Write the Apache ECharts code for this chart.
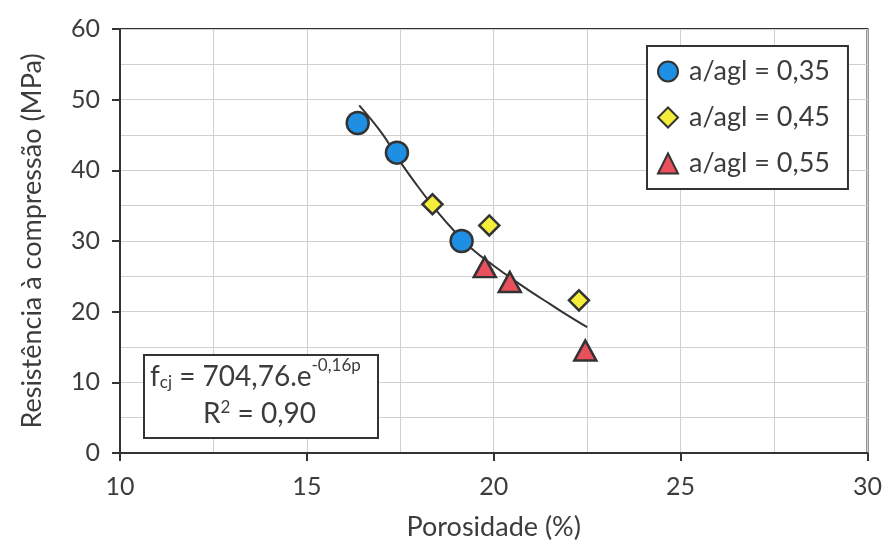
<!DOCTYPE html>
<html>
<head>
<meta charset="utf-8">
<script src="https://cdn.jsdelivr.net/npm/echarts@6/dist/echarts.min.js"></script>
<style>html,body{margin:0;padding:0;background:#fff}#c{width:885px;height:546px}</style>
</head>
<body>
<div id="c"></div>
<script>
// Data
const seriesNames = ['a/agl = 0,35', 'a/agl = 0,45', 'a/agl = 0,55'];
const porosity035 = [16.36, 17.41, 19.14];
const strength035 = [46.7, 42.5, 30.0];
const porosity045 = [18.36, 19.88, 22.28];
const strength045 = [35.2, 32.2, 21.6];
const porosity055 = [19.76, 20.43, 22.45];
const strength055 = [26.3, 24.2, 14.5];
const trendX = [16.4, 17.0, 17.5, 18.0, 18.5, 19.0, 19.5, 20.0, 20.5, 21.0, 21.5, 22.0, 22.5];
const trendY = [49.2, 45.3, 41.2, 37.5, 34.1, 31.1, 28.5, 26.5, 24.6, 22.8, 21.1, 19.4, 17.8];
const xTicks = [10, 15, 20, 25, 30];
const yTicks = [0, 10, 20, 30, 40, 50, 60];

const zip = (a, b) => a.map((v, i) => [v, b[i]]);
const FONT = 'Lato, "Open Sans", sans-serif';
const TXT = '#3c3c3c';

const chart = echarts.init(document.getElementById('c'));
chart.setOption({
  animation: false,
  textStyle: { fontFamily: FONT },
  grid: { left: 120, right: 16, top: 29, bottom: 91, show: true, borderColor: '#333', borderWidth: 2, backgroundColor: 'transparent' },
  xAxis: {
    type: 'value', min: xTicks[0], max: xTicks[xTicks.length - 1], interval: 5,
    name: 'Porosidade (%)', nameLocation: 'middle', nameGap: 61,
    nameTextStyle: { fontSize: 27, color: TXT, fontFamily: FONT },
    axisLine: { show: true, lineStyle: { color: '#333', width: 2 } },
    axisTick: { show: true, length: 8, lineStyle: { color: '#333', width: 2 } },
    axisLabel: { fontSize: 25, color: TXT, margin: 21, fontFamily: FONT },
    splitLine: { show: true, lineStyle: { color: '#cfcfcf', width: 1 } },
    minorTick: { show: false, splitNumber: 2 },
    minorSplitLine: { show: true, lineStyle: { color: '#cfcfcf', width: 1 } }
  },
  yAxis: {
    type: 'value', min: yTicks[0], max: yTicks[yTicks.length - 1], interval: 10,
    name: 'Resistência à compressão (MPa)', nameLocation: 'middle', nameGap: 74, nameRotate: 90,
    nameTextStyle: { fontSize: 27, color: TXT, fontFamily: FONT },
    axisLine: { show: true, lineStyle: { color: '#333', width: 2 } },
    axisTick: { show: true, length: 8, lineStyle: { color: '#333', width: 2 } },
    axisLabel: { fontSize: 25, color: TXT, margin: 20, fontFamily: FONT },
    splitLine: { show: true, lineStyle: { color: '#cfcfcf', width: 1 } },
    minorTick: { show: false, splitNumber: 2 },
    minorSplitLine: { show: true, lineStyle: { color: '#cfcfcf', width: 1 } }
  },
  legend: {
    data: seriesNames, orient: 'vertical', left: 647, top: 46,
    backgroundColor: '#fff', borderColor: '#333', borderWidth: 2,
    padding: [12, 18, 12, 10], itemGap: 19, itemWidth: 20, itemHeight: 20,
    textStyle: { fontSize: 27, color: TXT, fontFamily: FONT, padding: [0, 0, 0, 6] }
  },
  series: [
    {
      name: 'trend', type: 'line', data: zip(trendX, trendY), smooth: 0.4, showSymbol: false,
      lineStyle: { color: '#333', width: 2 }, z: 3, silent: true
    },
    {
      name: seriesNames[0], type: 'scatter', data: zip(porosity035, strength035),
      symbol: 'circle', symbolSize: 22,
      itemStyle: { color: '#1f8fe3', borderColor: '#333', borderWidth: 2.5, opacity: 1 }, z: 4
    },
    {
      name: seriesNames[1], type: 'scatter', data: zip(porosity045, strength045),
      symbol: 'diamond', symbolSize: [20, 20],
      itemStyle: { color: '#f4ee3a', borderColor: '#333', borderWidth: 2.5, opacity: 1 }, z: 4
    },
    {
      name: seriesNames[2], type: 'scatter', data: zip(porosity055, strength055),
      symbol: 'triangle', symbolSize: [22, 20],
      itemStyle: { color: '#e8505b', borderColor: '#333', borderWidth: 2.5, opacity: 1 }, z: 4
    }
  ],
  graphic: [
    {
      type: 'rect', left: 143, top: 354, z: 10,
      shape: { width: 234, height: 83 },
      style: { fill: '#fff', stroke: '#333', lineWidth: 2 }
    },
    {
      type: 'text', left: 150, top: 357, z: 11,
      style: {
        text: '{a|f}{s|cj}{a| = 704,76.e}{p|-0,16p}',
        rich: {
          a: { fontSize: 28, fill: TXT, fontFamily: FONT, verticalAlign: 'bottom', lineHeight: 34 },
          s: { fontSize: 17, fill: TXT, fontFamily: FONT, padding: [14, 0, 0, 0], lineHeight: 34, verticalAlign: 'bottom' },
          p: { fontSize: 17, fill: TXT, fontFamily: FONT, padding: [0, 0, 16, 0], lineHeight: 34, verticalAlign: 'top' }
        }
      }
    },
    {
      type: 'text', left: 203, top: 399, z: 11,
      style: {
        text: '{a|R}{p|2}{a| = 0,90}',
        rich: {
          a: { fontSize: 28, fill: TXT, fontFamily: FONT, lineHeight: 34 },
          p: { fontSize: 17, fill: TXT, fontFamily: FONT, padding: [0, 0, 12, 0], lineHeight: 34 }
        }
      }
    }
  ]
});
</script>
</body>
</html>
